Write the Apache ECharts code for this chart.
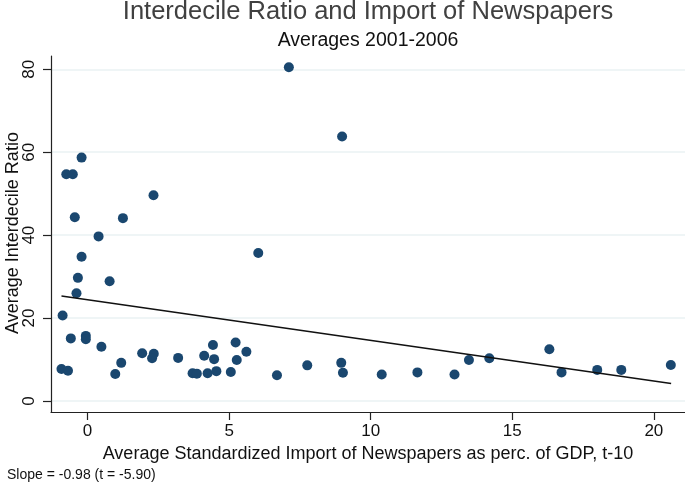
<!DOCTYPE html>
<html>
<head>
<meta charset="utf-8">
<script src="https://cdn.jsdelivr.net/npm/echarts@6/dist/echarts.min.js"></script>
<style>
html,body{margin:0;padding:0;background:#fff;}
#chart{width:685px;height:483px;}
</style>
</head>
<body>
<div id="chart"></div>
<script>
// Scatter data: import of newspapers (x) vs interdecile ratio (y)
var importX = [-0.21,-0.75,-0.52,2.33,-0.45,1.25,0.39,-0.21,-0.34,0.78,-0.39,-0.88,-0.59,-0.06,-0.06,0.49,-0.92,-0.69,0.98,1.19,1.93,2.34,2.28,3.20,4.12,4.43,4.47,5.23,5.61,5.27,3.71,3.86,4.24,4.55,5.06,6.69,7.76,8.96,9.02,10.39,11.65,12.96,13.47,14.19,16.31,16.74,18.00,18.85,20.60,7.11,8.99,6.03];
var ratioY  = [58.7,54.7,54.7,49.6,44.3,44.1,39.7,34.8,29.7,28.9,26.0,20.6,15.1,15.7,14.9,13.1,7.7,7.3,6.5,9.2,11.5,11.4,10.3,10.4,10.9,13.5,10.1,14.1,11.9,9.9,6.7,6.6,6.7,7.2,7.0,6.2,8.6,9.2,6.8,6.4,6.9,6.4,9.9,10.3,12.5,6.9,7.5,7.5,8.7,80.5,63.8,35.7];
// Fitted line endpoints
var fitX = [-0.92, 20.61];
var fitY = [25.3, 4.22];
// Tick labels
var xTicks = [0, 5, 10, 15, 20];
var yTicks = [0, 20, 40, 60, 80];

var scatterData = importX.map(function(x, i){ return [x, ratioY[i]]; });
var fitData = fitX.map(function(x, i){ return [x, fitY[i]]; });

var FONT = '"Liberation Sans", Arial, sans-serif';
var chart = echarts.init(document.getElementById('chart'), null, {renderer:'canvas'});
chart.setOption({
  animation: false,
  backgroundColor: '#fff',
  title: [
    {text: 'Interdecile Ratio and Import of Newspapers', left: 363, top: -6, textAlign: 'center',
     textStyle: {fontFamily: FONT, fontSize: 25.5, fontWeight: 'normal', color: '#404040'}},
    {text: 'Averages 2001-2006', left: 363, top: 26, textAlign: 'center',
     textStyle: {fontFamily: FONT, fontSize: 19.5, fontWeight: 'normal', color: '#111'}},
    {text: 'Slope = -0.98 (t = -5.90)', left: 2, top: 463,
     textStyle: {fontFamily: FONT, fontSize: 14, fontWeight: 'normal', color: '#111'}}
  ],
  graphic: [
    {type: 'text', x: 13, y: 233, rotation: Math.PI / 2, silent: true,
     style: {text: 'Average Interdecile Ratio', fontFamily: FONT, fontSize: 18, fill: '#111',
             align: 'center', verticalAlign: 'middle'}}
  ],
  grid: {left: 51, right: 0, top: 56, bottom: 71, containLabel: false, outerBoundsMode: 'none'},
  xAxis: {
    type: 'value', min: -1.29, max: 21.1,
    name: 'Average Standardized Import of Newspapers as perc. of GDP, t-10',
    nameLocation: 'middle', nameGap: 32,
    nameTextStyle: {fontFamily: FONT, fontSize: 18, color: '#111'},
    axisLine: {show: true, onZero: false, lineStyle: {color: '#222', width: 1.2}},
    axisTick: {show: true, length: 8, customValues: xTicks, lineStyle: {color: '#222', width: 1.2}},
    axisLabel: {customValues: xTicks, fontFamily: FONT, fontSize: 17, color: '#111', margin: 11},
    splitLine: {show: false}
  },
  yAxis: {
    type: 'value', min: -2.65, max: 83.2,
    axisLine: {show: true, onZero: false, lineStyle: {color: '#222', width: 1.2}},
    axisTick: {show: true, length: 8, customValues: yTicks, lineStyle: {color: '#222', width: 1.2}},
    axisLabel: {customValues: yTicks, rotate: 90, fontFamily: FONT, fontSize: 17, color: '#111', margin: 13},
    splitLine: {show: true, lineStyle: {color: '#eaf2f3', width: 1.5}}
  },
  series: [
    {type: 'scatter', data: scatterData, symbol: 'circle', symbolSize: 10,
     itemStyle: {color: '#1a476f', opacity: 1}, z: 3},
    {type: 'line', data: fitData, showSymbol: false, symbol: 'none',
     lineStyle: {color: '#111', width: 1.5}, z: 4}
  ]
});
</script>
</body>
</html>
